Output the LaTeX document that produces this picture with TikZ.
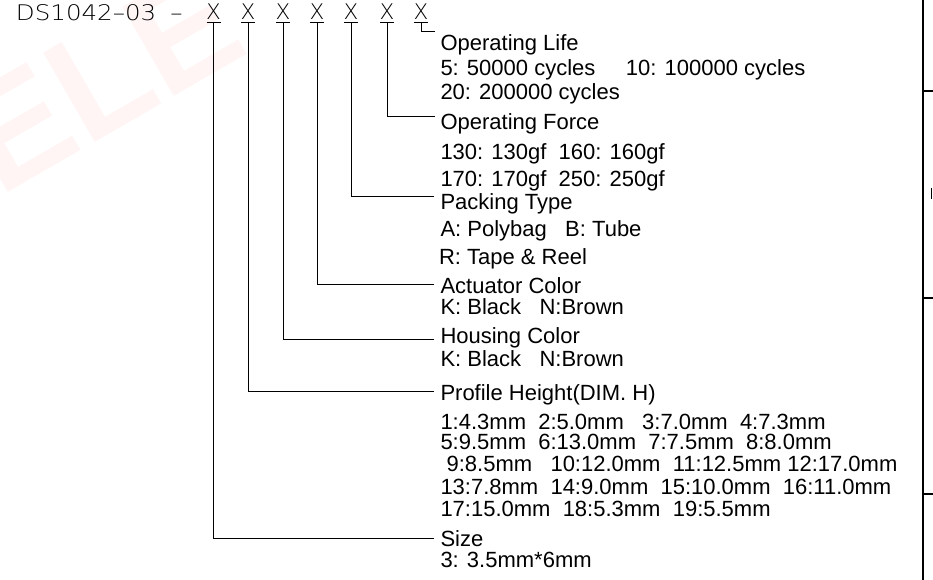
\documentclass[tikz,border=0pt]{standalone}
\usepackage{fontspec}
\usepackage{graphicx}
\setmainfont{Liberation Sans}
\IfFontExistsTF{DejaVu Sans ExtraLight}
  {\newfontfamily\cadfont{DejaVu Sans ExtraLight}\def\cadscale{1.14}}
  {\newfontfamily\cadfont{DejaVu Sans Mono}\def\cadscale{1.1}}
\begin{document}
\begin{tikzpicture}[x=1pt,y=-1pt,line width=1pt,
  lbl/.style={anchor=base west,inner sep=0pt,font=\fontsize{22}{26}\selectfont},
  cad/.style={inner sep=0pt,font=\cadfont\fontsize{21.5}{24}\selectfont},
  conn/.style={draw,line width=1pt},
  frame/.style={draw,line width=2pt},
  wmark/.style={inner sep=0pt,text=red!4,font=\fontsize{150}{150}\selectfont\bfseries}]
\useasboundingbox (0,0) rectangle (933,580);
% watermark
\node[wmark,rotate=30] (wm) at (100,80) {ELE};
% part number
\node[cad,anchor=base west] (pn) at (15.5,20.5) {\scalebox{\cadscale}[1]{DS1042–03}\hspace{14pt}\scalebox{\cadscale}[1]{–}};
\node[cad,anchor=base] (x1) at (213.5,20) {X};
\node[cad,anchor=base] (x2) at (248,20) {X};
\node[cad,anchor=base] (x3) at (283,20) {X};
\node[cad,anchor=base] (x4) at (317,20) {X};
\node[cad,anchor=base] (x5) at (351,20) {X};
\node[cad,anchor=base] (x6) at (387,20) {X};
\node[cad,anchor=base] (x7) at (421,20) {X};
\foreach \i in {1,...,7}{
  \draw ([xshift=-7pt,yshift=-2.3pt]x\i.south) -- ([xshift=7pt,yshift=-2.3pt]x\i.south);
}
% labels
\node[lbl] (life) at (440,50.7) {Operating Life};
\node[lbl] (life1) at (440,76) {5: 50000 cycles\ \ \ \ \ 10: 100000 cycles};
\node[lbl] (life2) at (440,100) {20: 200000 cycles};
\node[lbl] (force) at (440,130) {Operating Force};
\node[lbl] (force1) at (440,159.3) {130: 130gf\ \ 160: 160gf};
\node[lbl] (force2) at (440,186) {170: 170gf\ \ 250: 250gf};
\node[lbl] (pack) at (440,209.3) {Packing Type};
\node[lbl] (pack1) at (440,236.7) {A: Polybag\ \ \ B: Tube};
\node[lbl] (pack2) at (438.5,264) {R: Tape \& Reel};
\node[lbl] (act) at (440,293.3) {Actuator Color};
\node[lbl] (act1) at (440,314.3) {K: Black\ \ \ N:Brown};
\node[lbl] (hous) at (440,343.3) {Housing Color};
\node[lbl] (hous1) at (440,366) {K: Black\ \ \ N:Brown};
\node[lbl] (prof) at (440,400.7) {Profile Height(DIM. H)};
\node[lbl] (prof1) at (440,429) {1:4.3mm\ \ 2:5.0mm\ \ \ 3:7.0mm\ \ 4:7.3mm};
\node[lbl] (prof2) at (440,449.3) {5:9.5mm\ \ 6:13.0mm\ \ 7:7.5mm\ \ 8:8.0mm};
\node[lbl] (prof3) at (440,471) {\ 9:8.5mm\ \ \ 10:12.0mm\ \ 11:12.5mm 12:17.0mm};
\node[lbl] (prof4) at (440,494.3) {13:7.8mm\ \ 14:9.0mm\ \ 15:10.0mm\ \ 16:11.0mm};
\node[lbl] (prof5) at (440,516) {17:15.0mm\ \ 18:5.3mm\ \ 19:5.5mm};
\node[lbl] (size) at (440,546) {Size};
\node[lbl] (size1) at (440,567.7) {3: 3.5mm*6mm};
% connector ends
\coordinate (eLife) at (435,31.7);
\coordinate (eForce) at (435,116.7);
\coordinate (ePack) at (434,196.7);
\coordinate (eAct) at (434,284.3);
\coordinate (eHous) at (434,339.3);
\coordinate (eProf) at (434,391);
\coordinate (eSize) at (434,538);
\draw[conn] ([yshift=-2.3pt]x7.south) |- (eLife);
\draw[conn] ([yshift=-2.3pt]x6.south) |- (eForce);
\draw[conn] ([yshift=-2.3pt]x5.south) |- (ePack);
\draw[conn] ([yshift=-2.3pt]x4.south) |- (eAct);
\draw[conn] ([yshift=-2.3pt]x3.south) |- (eHous);
\draw[conn] ([yshift=-2.3pt]x2.south) |- (eProf);
\draw[conn] ([yshift=-2.3pt]x1.south) |- (eSize);
% right frame
\coordinate (fT) at (922.5,0);
\coordinate (fB) at (922.5,580);
\draw[frame] (fT) -- (fB);
\draw[frame] (922.5,91.5) -- (933,91.5);
\draw[frame] (922.5,298) -- (933,298);
\draw[frame] (922.5,494) -- (933,494);
\draw[line width=1.5pt] (931.5,188) -- (931.5,199);
\end{tikzpicture}
\end{document}
